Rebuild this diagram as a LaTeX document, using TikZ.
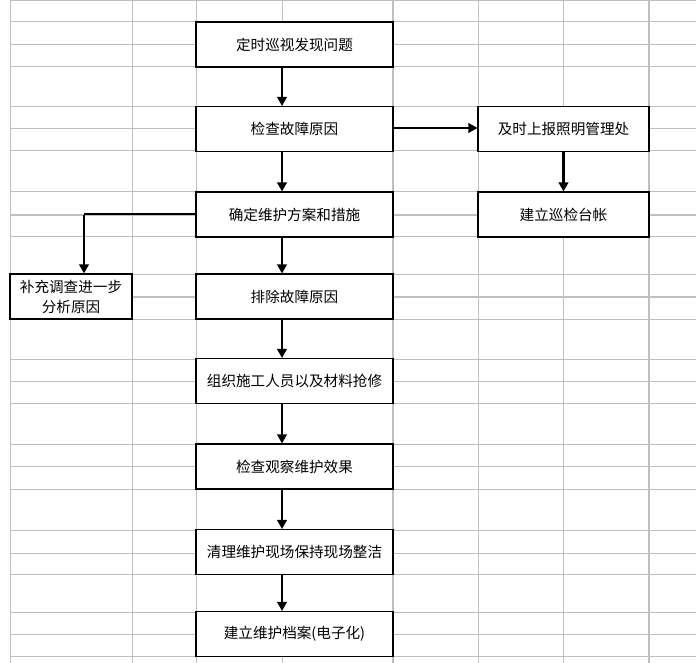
\documentclass[tikz,border=0pt]{standalone}
\usepackage{fontspec}
\newfontfamily\cjk{Noto Sans CJK SC}
\usetikzlibrary{arrows.meta}
\definecolor{gridgray}{HTML}{C0C0C0}
\tikzset{
  gridline/.style={draw=gridgray, line width=1pt},
  gridthick/.style={draw=gridgray, line width=2pt},
  box/.style={draw=black, fill=white, line width=1.1pt, inner sep=0pt, align=center,
    font=\cjk\fontsize{14.6}{20}\selectfont},
  mainbox/.style={box, minimum width=197pt, minimum height=45pt},
  sidebox/.style={box, minimum width=171pt, minimum height=45pt},
  arr/.style={line width=2.2pt, -{Triangle[length=9pt,width=9.5pt]}},
  thinline/.style={line width=1.2pt}
}
\begin{document}
\begin{tikzpicture}[x=1pt,y=-1pt]
\useasboundingbox (0,0) rectangle (696,663);
% grid
\foreach \y in {0.7,22,45,67,107,129,151,192,237,274,319,359,381,403,444,466,489,530,553,574,612,634,656}
  \draw[gridline] (10,\y) -- (696,\y);
\foreach \y in {215,297}
  \draw[gridthick] (10,\y) -- (696,\y);
\foreach \x in {10,132,196,282,478,563}
  \draw[gridline] (\x,0) -- (\x,663);
\foreach \x in {393,649}
  \draw[gridthick] (\x,0) -- (\x,663);
% boxes
\node[mainbox] (b1) at (294.5,44.5) {定时巡视发现问题};
\node[mainbox] (b2) at (294.5,129) {检查故障原因};
\node[mainbox] (b3) at (294.5,214.5) {确定维护方案和措施};
\node[mainbox] (b4) at (294.5,296.5) {排除故障原因};
\node[mainbox] (b5) at (294.5,381) {组织施工人员以及材料抢修};
\node[mainbox] (b6) at (294.5,466.5) {检查观察维护效果};
\node[mainbox] (b7) at (294.5,552) {清理维护现场保持现场整洁};
\node[mainbox] (b8) at (294.5,634) {建立维护档案(电子化)};
\node[sidebox] (r1) at (563.5,129) {及时上报照明管理处};
\node[sidebox] (r2) at (563.5,214.5) {建立巡检台帐};
\node[box, minimum width=122pt, minimum height=45pt] (l1) at (71,296.5) {补充调查进一步\\分析原因};
% connectors
\draw[arr] ([xshift=-12.5pt]b1.south) -- ([xshift=-12.5pt]b2.north);
\draw[arr] ([xshift=-12.5pt]b2.south) -- ([xshift=-12.5pt]b3.north);
\draw[arr] ([xshift=-12.5pt]b3.south) -- ([xshift=-12.5pt]b4.north);
\draw[arr] ([xshift=-12.5pt]b4.south) -- ([xshift=-12.5pt]b5.north);
\draw[arr] ([xshift=-12.5pt]b5.south) -- ([xshift=-12.5pt]b6.north);
\draw[arr] ([xshift=-12.5pt]b6.south) -- ([xshift=-12.5pt]b7.north);
\draw[arr] ([xshift=-12.5pt]b7.south) -- ([xshift=-12.5pt]b8.north);
\draw[arr] ([yshift=1pt]b2.east) -- ([yshift=1pt]r1.west);
\draw[arr] (r1.south) -- (r2.north);
\coordinate (c1) at (84,214);
\draw[thinline] (b3.west |- c1) -- (c1);
\draw[arr] ([yshift=-0.6pt]c1) -- (c1 |- l1.north);
\end{tikzpicture}
\end{document}
